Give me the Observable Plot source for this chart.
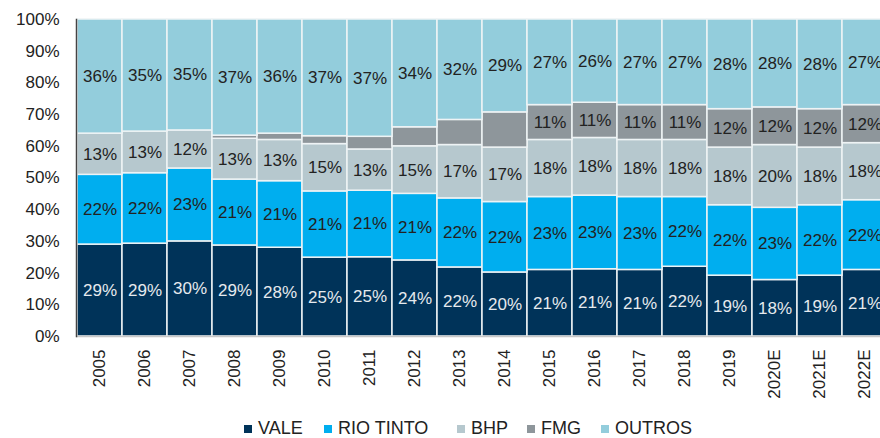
<!DOCTYPE html>
<html>
<head>
<meta charset="utf-8">
<script src="https://cdn.jsdelivr.net/npm/d3@7"></script>
<script src="https://cdn.jsdelivr.net/npm/@observablehq/plot@0.6"></script>
<style>
  html, body { margin: 0; padding: 0; background: #fff; overflow: hidden; width: 880px; height: 438px; }
  #wrap { position: relative; width: 880px; height: 438px; overflow: hidden; font-family: "Liberation Sans", Arial, sans-serif; }
  #chart svg { max-width: none !important; }
  #legend { position: absolute; left: 0; top: 419px; width: 880px; height: 19px; font-size: 18px; line-height: 19px; color: #222; white-space: nowrap; }
  #legend .item { position: absolute; top: 0; display: flex; align-items: center; }
  #legend .sw { width: 8px; height: 8px; margin-right: 6px; }
</style>
</head>
<body>
<div id="wrap"><div id="chart"></div><div id="legend"></div></div>
<script>
const years = ["2005","2006","2007","2008","2009","2010","2011","2012","2013","2014","2015","2016","2017","2018","2019","2020E","2021E","2022E"];
const companies = ["VALE","RIO TINTO","BHP","FMG","OUTROS"];
const colors = ["#003359","#00AEEF","#B6C8CE","#8E969B","#93CDDC"];
const vale   = [29,29,30,29,28,25,25,24,22,20,21,21,21,22,19,18,19,21];
const rio    = [22,22,23,21,21,21,21,21,22,22,23,23,23,22,22,23,22,22];
const bhp    = [13,13,12,13,13,15,13,15,17,17,18,18,18,18,18,20,18,18];
const fmg    = [0,0,0,1,2,2.5,4,6,8,11,11,11,11,11,12,12,12,12];
const outros = [36,35,35,37,36,37,37,34,32,29,27,26,27,27,28,28,28,27];
// FMG shares shown as labels only from 2015 on
const fmgLabelFrom = "2015";

const series = [vale, rio, bhp, fmg, outros];
const rows = [];
companies.forEach((c, ci) => {
  years.forEach((y, yi) => {
    const v = series[ci][yi];
    let label = v + "%";
    if (c === "FMG" && yi < years.indexOf(fmgLabelFrom)) label = "";
    rows.push({year: y, company: c, value: v, label});
  });
});

const font = "Liberation Sans, Arial, sans-serif";
const chart = Plot.plot({
  width: 890,
  height: 410,
  marginLeft: 76,
  marginRight: 2,
  marginTop: 19,
  marginBottom: 74,
  style: {fontFamily: font, fontSize: "17px", color: "#222", background: "transparent", overflow: "visible", maxWidth: "none"},
  x: {domain: years, padding: 0, label: null, tickSize: 0, tickPadding: 13, tickRotate: -90},
  y: {domain: [0, 1], ticks: d3.range(0, 1.001, 0.1), tickFormat: d3.format(".0%"), tickSize: 0, tickPadding: 17, label: null},
  color: {domain: companies, range: colors},
  marks: [
    Plot.barY(rows, Plot.stackY({x: "year", y: "value", z: "company", fill: "company", offset: "normalize", order: companies, stroke: "#eef3f5", strokeWidth: 1.5})),
    Plot.text(rows, Plot.stackY({x: "year", y: "value", z: "company", offset: "normalize", order: companies, text: "label", fontSize: 17, fill: d => d.company === "VALE" ? "#e6eaee" : "#222"})),
    Plot.ruleY([0], {stroke: "#c8c8c8", strokeWidth: 1.5}),
    Plot.frame({anchor: "left", stroke: "#444", strokeWidth: 1.5})
  ]
});
document.getElementById("chart").appendChild(chart);

const legendLeft = [244, 324, 457, 527, 601];
const legend = document.getElementById("legend");
companies.forEach((c, i) => {
  const it = document.createElement("div");
  it.className = "item";
  it.style.left = legendLeft[i] + "px";
  const sw = document.createElement("span");
  sw.className = "sw";
  sw.style.background = colors[i];
  const t = document.createElement("span");
  t.textContent = c;
  it.appendChild(sw); it.appendChild(t);
  legend.appendChild(it);
});
</script>
</body>
</html>
